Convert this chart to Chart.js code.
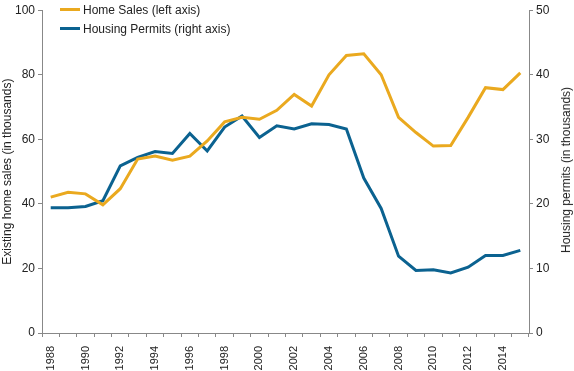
<!DOCTYPE html>
<html>
<head>
<meta charset="utf-8">
<script src="https://cdn.jsdelivr.net/npm/chart.js@4"></script>
<style>
    html, body { margin: 0; padding: 0; background: #fff; }
    #wrap { position: relative; width: 574px; height: 371px; }
    #legend { position: absolute; left: 60px; top: 2px; font: 12px "Liberation Sans", Arial, sans-serif; color: #222; }
    #legend div { height: 19px; line-height: 16px; }
    #legend span.sw { display: inline-block; width: 20px; height: 3px; vertical-align: middle; margin-right: 3px; position: relative; top: -1px; }
    #rtitle { position: absolute; left: 566px; top: 170px; font: 12px "Liberation Sans", Arial, sans-serif; color: #222;
              white-space: nowrap; transform: translate(-50%, -50%) rotate(-90deg); }
</style>
</head>
<body>
<div id="wrap">
    <canvas id="chart" width="574" height="371"></canvas>
    <div id="legend"></div>
    <div id="rtitle">Housing permits (in thousands)</div>
</div>
<script>
// Data
var years = [1988, 1989, 1990, 1991, 1992, 1993, 1994, 1995, 1996, 1997, 1998, 1999, 2000, 2001,
             2002, 2003, 2004, 2005, 2006, 2007, 2008, 2009, 2010, 2011, 2012, 2013, 2014, 2015];
var homeSales = [42.1, 43.6, 43.1, 39.7, 44.7, 53.9, 54.8, 53.5, 54.8, 59.5, 65.4, 66.8, 66.2, 69.0,
                 73.9, 70.3, 80.0, 86.0, 86.5, 80.0, 66.8, 62.1, 57.9, 58.1, 66.8, 76.0, 75.4, 80.6];
var housingPermits = [19.4, 19.4, 19.6, 20.5, 25.9, 27.2, 28.1, 27.8, 30.9, 28.2, 31.9, 33.6, 30.3, 32.1,
                      31.6, 32.4, 32.3, 31.6, 24.0, 19.3, 11.9, 9.7, 9.8, 9.3, 10.2, 12.0, 12.0, 12.8];

var ORANGE = "#eaa91f";
var BLUE = "#0b6290";
var FONT = "'Liberation Sans', Arial, sans-serif";

var datasets = [
    { label: "Home Sales (left axis)", data: homeSales, borderColor: ORANGE, yAxisID: "y" },
    { label: "Housing Permits (right axis)", data: housingPermits, borderColor: BLUE, yAxisID: "y1" }
];

// simple html legend
var legendHtml = "";
datasets.forEach(function (ds) {
    legendHtml += '<div><span class="sw" style="background:' + ds.borderColor + '"></span>' + ds.label + '</div>';
});
document.getElementById("legend").innerHTML = legendHtml;

datasets.forEach(function (ds) {
    ds.borderWidth = 3;
    ds.pointRadius = 0;
    ds.tension = 0;
    ds.fill = false;
});

Chart.defaults.font.family = FONT;
Chart.defaults.font.size = 12;
Chart.defaults.color = "#222";

new Chart(document.getElementById("chart"), {
    type: "line",
    data: { labels: years, datasets: datasets },
    options: {
        responsive: false,
        animation: false,
        layout: { padding: { top: 2, left: 0, right: 0, bottom: 0 } },
        plugins: { legend: { display: false }, tooltip: { enabled: false } },
        scales: {
            x: {
                offset: true,
                grid: { offset: true, drawOnChartArea: false, tickLength: 4, color: "#888" },
                border: { color: "#888" },
                ticks: {
                    autoSkip: false,
                    maxRotation: 90,
                    minRotation: 90,
                    padding: 9,
                    font: { size: 11 },
                    callback: function (val, i) {
                        return years[i] % 2 === 0 ? String(years[i]) : "";
                    }
                },
                afterFit: function (scale) { scale.height = 38; }
            },
            y: {
                position: "left",
                min: 0,
                max: 100,
                ticks: { stepSize: 20, padding: 3 },
                grid: { drawOnChartArea: false, tickLength: 4, color: "#888" },
                border: { color: "#888" },
                title: { display: true, text: "Existing home sales (in thousands)", padding: 0 },
                afterFit: function (scale) { scale.width = 42; }
            },
            y1: {
                position: "right",
                min: 0,
                max: 50,
                ticks: { stepSize: 10, padding: 3 },
                grid: { drawOnChartArea: false, tickLength: 4, color: "#888" },
                border: { color: "#888" },
                afterFit: function (scale) { scale.width = 45; }
            }
        }
    }
});
</script>
</body>
</html>
